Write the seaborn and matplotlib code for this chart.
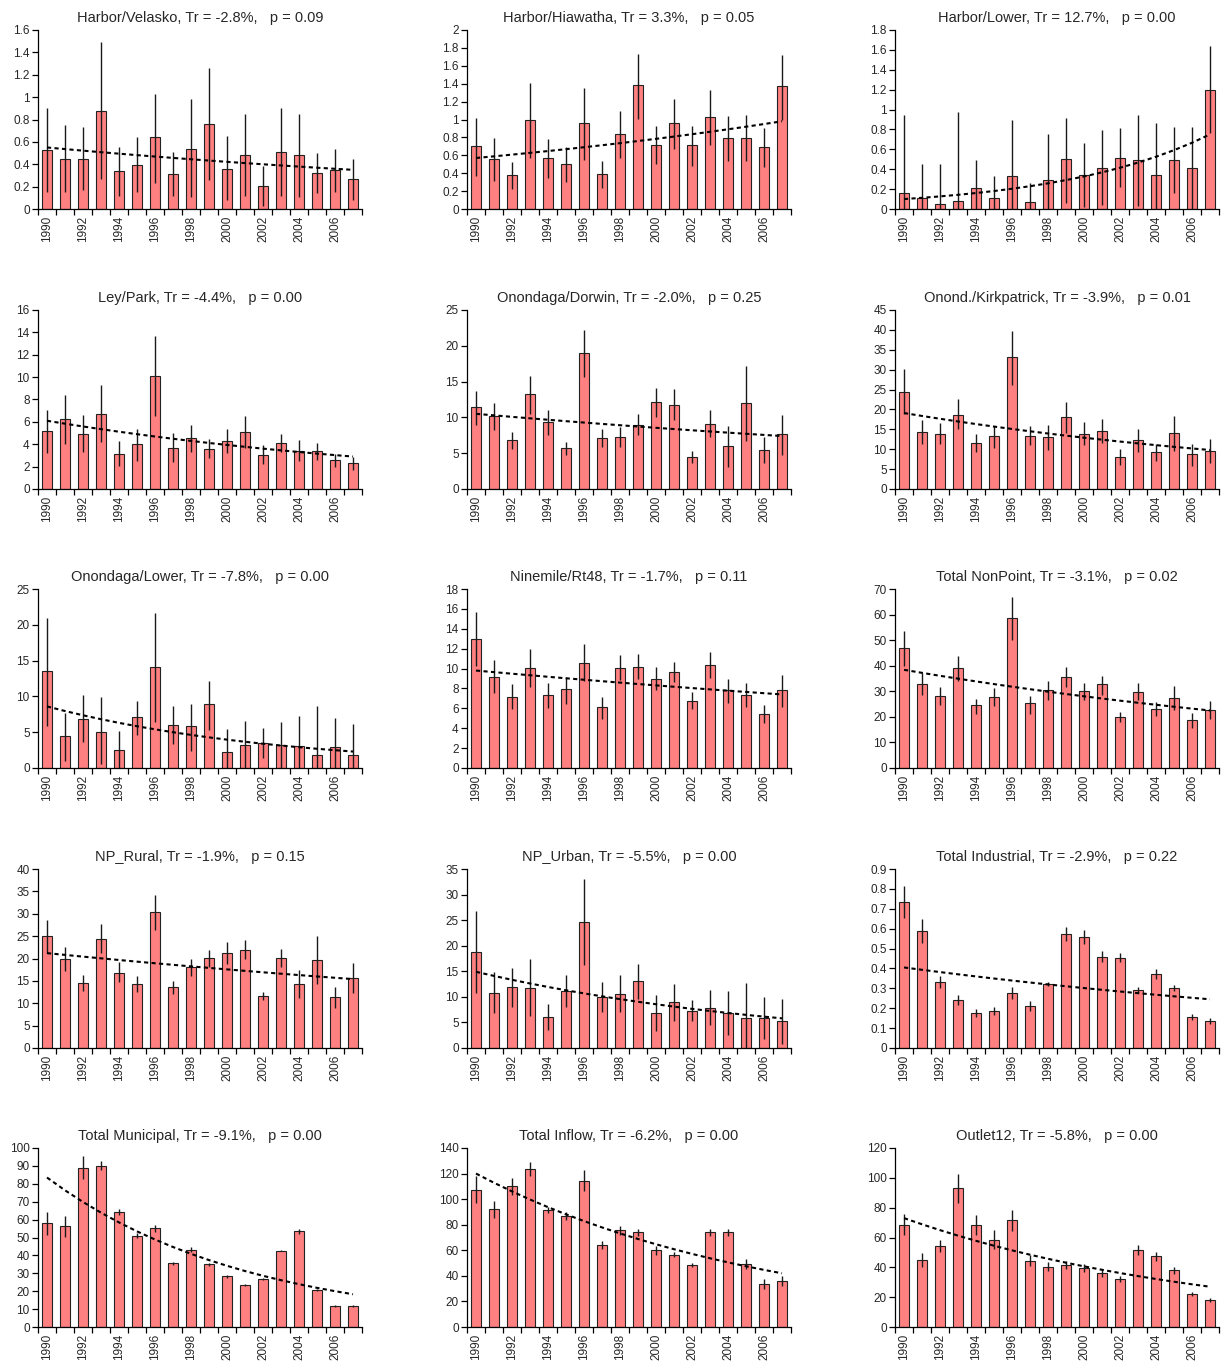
import numpy as np
import pandas as pd
import matplotlib
matplotlib.use("Agg")
import matplotlib.pyplot as plt
from matplotlib.ticker import FixedLocator, FuncFormatter
import seaborn as sns

years = list(range(1990, 2008))

# Harbor/Velasko
velasko = [0.53, 0.45, 0.45, 0.88, 0.34, 0.39, 0.64, 0.31, 0.54, 0.76, 0.36, 0.48, 0.21, 0.51, 0.48, 0.32, 0.35, 0.27]
velasko_hi = [0.90, 0.75, 0.73, 1.49, 0.55, 0.64, 1.03, 0.51, 0.98, 1.26, 0.65, 0.85, 0.38, 0.90, 0.85, 0.50, 0.54, 0.45]
velasko_lo = [0.15, 0.15, 0.17, 0.27, 0.12, 0.15, 0.23, 0.12, 0.11, 0.26, 0.08, 0.12, 0.03, 0.12, 0.11, 0.14, 0.15, 0.08]

# Harbor/Hiawatha
hiawatha = [0.70, 0.56, 0.38, 0.99, 0.57, 0.50, 0.96, 0.39, 0.84, 1.38, 0.72, 0.96, 0.71, 1.03, 0.79, 0.79, 0.69, 1.37]
hiawatha_hi = [1.02, 0.79, 0.53, 1.41, 0.78, 0.69, 1.35, 0.54, 1.10, 1.73, 0.93, 1.23, 0.93, 1.33, 1.04, 1.05, 0.90, 1.72]
hiawatha_lo = [0.37, 0.31, 0.22, 0.57, 0.35, 0.30, 0.55, 0.23, 0.57, 1.01, 0.50, 0.67, 0.48, 0.72, 0.54, 0.54, 0.47, 0.99]

# Harbor/Lower
hlower = [0.16, 0.11, 0.05, 0.08, 0.21, 0.11, 0.33, 0.07, 0.29, 0.50, 0.34, 0.41, 0.51, 0.49, 0.34, 0.49, 0.41, 1.20]
hlower_hi = [0.95, 0.45, 0.45, 0.98, 0.49, 0.33, 0.90, 0.26, 0.75, 0.92, 0.66, 0.79, 0.81, 0.95, 0.86, 0.82, 0.82, 1.64]
hlower_lo = [0.0, 0.0, 0.0, 0.0, 0.0, 0.0, 0.0, 0.0, 0.0, 0.06, 0.02, 0.04, 0.22, 0.03, 0.0, 0.16, 0.0, 0.76]

# Ley/Park
leypark = [5.2, 6.3, 4.9, 6.7, 3.1, 4.0, 10.1, 3.7, 4.6, 3.6, 4.3, 5.1, 3.0, 4.1, 3.4, 3.4, 2.6, 2.3]
leypark_hi = [7.1, 8.4, 6.6, 9.3, 4.3, 5.4, 13.7, 5.0, 5.7, 4.5, 5.4, 6.5, 3.9, 4.9, 4.4, 4.1, 3.1, 2.9]
leypark_lo = [3.2, 4.0, 3.3, 4.2, 2.1, 2.5, 6.5, 2.4, 3.3, 2.8, 3.2, 3.7, 2.2, 3.3, 2.5, 2.6, 2.0, 1.7]

# Onondaga/Dorwin
dorwin = [11.4, 10.2, 6.8, 13.2, 9.3, 5.7, 19.0, 7.1, 7.2, 9.0, 12.1, 11.8, 4.5, 9.1, 6.0, 12.0, 5.4, 7.7]
dorwin_hi = [13.7, 12.0, 8.0, 15.8, 11.0, 6.6, 22.2, 8.4, 8.6, 10.5, 14.1, 13.9, 5.3, 11.0, 8.8, 17.2, 7.2, 10.4]
dorwin_lo = [9.0, 8.2, 5.6, 10.5, 7.6, 4.8, 15.6, 5.8, 5.8, 7.6, 10.0, 9.6, 3.7, 7.3, 3.1, 6.7, 3.6, 4.8]

# Onond./Kirkpatrick
kirk = [24.5, 14.4, 13.9, 18.7, 11.6, 13.3, 33.1, 13.3, 13.0, 18.2, 13.9, 14.7, 8.1, 12.2, 9.3, 14.2, 8.7, 9.5]
kirk_hi = [30.2, 17.4, 16.5, 22.5, 13.9, 15.9, 39.8, 15.9, 16.0, 21.9, 16.9, 17.7, 10.1, 15.2, 11.4, 18.4, 11.3, 12.5]
kirk_lo = [18.8, 11.2, 11.3, 15.0, 9.3, 10.4, 26.2, 11.0, 9.8, 14.2, 11.0, 11.5, 6.1, 9.4, 7.0, 9.6, 5.9, 6.5]

# Onondaga/Lower
olower = [13.5, 4.4, 6.9, 5.0, 2.5, 7.1, 14.1, 6.0, 5.8, 8.9, 2.2, 3.2, 3.5, 3.2, 3.1, 1.8, 2.9, 1.8]
olower_hi = [20.9, 7.7, 10.2, 9.9, 5.2, 9.4, 21.7, 8.6, 9.0, 12.1, 5.5, 6.5, 5.6, 6.4, 7.2, 8.7, 7.0, 6.1]
olower_lo = [5.8, 1.0, 3.7, 0.5, 0.0, 4.6, 6.4, 3.4, 2.4, 5.3, 0.0, 0.0, 1.4, 0.0, 0.0, 0.0, 0.0, 0.0]

# Ninemile/Rt48
ninemile = [13.0, 9.2, 7.1, 10.1, 7.3, 7.9, 10.6, 6.1, 10.1, 10.2, 9.0, 9.7, 6.7, 10.4, 7.8, 7.3, 5.4, 7.8]
ninemile_hi = [15.7, 10.9, 8.4, 12.0, 8.5, 9.2, 12.5, 7.1, 11.4, 11.5, 10.2, 10.7, 7.6, 11.7, 9.0, 8.5, 6.3, 9.4]
ninemile_lo = [10.3, 7.5, 5.9, 8.1, 6.0, 6.4, 8.7, 4.9, 8.8, 8.9, 7.8, 8.6, 5.9, 9.1, 6.5, 6.1, 4.5, 6.1]

# Total NonPoint
nonpoint = [46.8, 32.8, 28.3, 39.0, 24.5, 27.8, 58.5, 25.4, 30.4, 35.6, 30.0, 32.8, 20.0, 29.9, 22.9, 27.4, 18.8, 22.5]
nonpoint_hi = [53.5, 37.0, 31.6, 43.8, 27.0, 31.2, 66.7, 28.2, 34.0, 39.4, 33.3, 36.0, 22.0, 33.3, 25.8, 32.0, 21.6, 26.2]
nonpoint_lo = [40.0, 28.5, 24.5, 34.0, 21.0, 24.2, 50.2, 21.2, 26.6, 31.5, 26.4, 28.5, 17.8, 26.5, 20.3, 22.5, 15.5, 19.0]

# NP_Rural
rural = [25.0, 19.9, 14.5, 24.4, 16.8, 14.3, 30.3, 13.6, 18.1, 20.2, 21.3, 22.0, 11.7, 20.2, 14.3, 19.7, 11.4, 15.7]
rural_hi = [28.6, 22.5, 16.3, 27.7, 19.2, 16.0, 34.1, 15.0, 20.0, 22.0, 23.6, 24.2, 12.6, 22.2, 17.5, 25.1, 13.6, 19.0]
rural_lo = [21.2, 17.2, 12.7, 21.2, 14.7, 12.6, 26.4, 12.0, 16.1, 18.2, 18.7, 19.8, 10.7, 18.0, 11.2, 14.3, 9.0, 12.4]

# NP_Urban
urban = [18.8, 10.8, 12.0, 11.8, 6.1, 11.2, 24.6, 10.0, 10.6, 13.1, 6.9, 8.9, 7.3, 7.9, 6.9, 5.9, 5.8, 5.2]
urban_hi = [26.7, 14.8, 15.6, 17.4, 8.7, 14.2, 33.0, 12.9, 14.2, 16.4, 10.4, 12.5, 9.3, 11.3, 11.1, 12.7, 10.0, 9.6]
urban_lo = [10.8, 6.8, 8.0, 6.3, 3.5, 8.1, 16.2, 7.1, 7.0, 9.6, 3.4, 5.3, 5.2, 4.5, 2.6, 0.0, 1.7, 0.8]

# Total Industrial
industrial = [0.735, 0.59, 0.33, 0.24, 0.175, 0.185, 0.275, 0.21, 0.32, 0.575, 0.56, 0.46, 0.455, 0.29, 0.37, 0.30, 0.155, 0.135]
industrial_hi = [0.815, 0.65, 0.36, 0.265, 0.195, 0.205, 0.305, 0.235, 0.33, 0.61, 0.595, 0.49, 0.48, 0.305, 0.395, 0.315, 0.17, 0.15]
industrial_lo = [0.655, 0.53, 0.30, 0.215, 0.155, 0.165, 0.245, 0.185, 0.31, 0.54, 0.525, 0.43, 0.43, 0.275, 0.345, 0.285, 0.14, 0.12]

# Total Municipal
municipal = [58.0, 56.2, 89.0, 90.0, 64.2, 51.0, 55.2, 35.5, 43.2, 35.0, 28.3, 23.6, 27.0, 42.7, 53.5, 20.8, 11.8, 11.8]
municipal_hi = [64.5, 61.8, 95.5, 92.5, 66.0, 52.3, 57.0, 36.2, 44.5, 35.7, 29.0, 24.1, 27.5, 43.2, 54.8, 21.3, 12.2, 12.2]
municipal_lo = [51.5, 50.5, 82.5, 87.5, 62.3, 49.7, 53.3, 34.8, 41.9, 34.3, 27.6, 23.1, 26.5, 42.2, 52.2, 20.3, 11.4, 11.4]

# Total Inflow
inflow = [107.5, 92.0, 110.0, 123.5, 91.5, 87.0, 114.5, 64.0, 75.5, 74.0, 60.0, 56.5, 48.5, 74.0, 74.0, 49.0, 33.5, 36.0]
inflow_hi = [118.0, 98.5, 116.5, 129.0, 94.0, 90.0, 122.5, 67.0, 79.0, 77.0, 63.5, 58.5, 50.0, 77.0, 77.0, 53.5, 37.5, 40.0]
inflow_lo = [97.0, 85.5, 103.5, 118.0, 89.0, 84.0, 106.0, 61.0, 72.0, 71.0, 56.5, 54.5, 47.0, 71.0, 71.0, 45.0, 29.5, 32.0]

# Outlet12
outlet = [68.5, 45.0, 54.5, 93.0, 68.5, 58.5, 71.5, 44.5, 40.5, 41.5, 39.5, 36.0, 32.5, 51.5, 47.5, 38.0, 22.0, 18.0]
outlet_hi = [75.5, 49.5, 58.5, 102.5, 75.0, 65.0, 78.5, 48.0, 43.5, 44.0, 42.0, 38.5, 34.5, 55.0, 50.5, 40.5, 23.5, 19.5]
outlet_lo = [62.0, 40.5, 50.5, 83.0, 62.0, 52.0, 64.5, 41.0, 37.5, 39.0, 37.0, 33.5, 30.5, 48.0, 44.5, 35.5, 20.5, 16.5]

titles = [
    "Harbor/Velasko, Tr = -2.8%,   p = 0.09",
    "Harbor/Hiawatha, Tr = 3.3%,   p = 0.05",
    "Harbor/Lower, Tr = 12.7%,   p = 0.00",
    "Ley/Park, Tr = -4.4%,   p = 0.00",
    "Onondaga/Dorwin, Tr = -2.0%,   p = 0.25",
    "Onond./Kirkpatrick, Tr = -3.9%,   p = 0.01",
    "Onondaga/Lower, Tr = -7.8%,   p = 0.00",
    "Ninemile/Rt48, Tr = -1.7%,   p = 0.11",
    "Total NonPoint, Tr = -3.1%,   p = 0.02",
    "NP_Rural, Tr = -1.9%,   p = 0.15",
    "NP_Urban, Tr = -5.5%,   p = 0.00",
    "Total Industrial, Tr = -2.9%,   p = 0.22",
    "Total Municipal, Tr = -9.1%,   p = 0.00",
    "Total Inflow, Tr = -6.2%,   p = 0.00",
    "Outlet12, Tr = -5.8%,   p = 0.00",
]

# fitted trend (exponential) read at 1990 and 2007
trend_start = [0.55, 0.57, 0.10, 6.1, 10.5, 19.1, 8.6, 9.8, 38.4, 21.2, 14.9, 0.405, 83.5, 120.0, 73.0]
trend_end = [0.35, 0.98, 0.75, 2.9, 7.4, 9.8, 2.3, 7.4, 22.5, 15.4, 5.8, 0.245, 18.3, 42.0, 27.0]

y_max = [1.6, 2.0, 1.8, 16, 25, 45, 25, 18, 70, 40, 35, 0.9, 100, 140, 120]
y_step = [0.2, 0.2, 0.2, 2, 5, 5, 5, 2, 10, 5, 5, 0.1, 10, 20, 20]

series = [
    (velasko, velasko_hi, velasko_lo),
    (hiawatha, hiawatha_hi, hiawatha_lo),
    (hlower, hlower_hi, hlower_lo),
    (leypark, leypark_hi, leypark_lo),
    (dorwin, dorwin_hi, dorwin_lo),
    (kirk, kirk_hi, kirk_lo),
    (olower, olower_hi, olower_lo),
    (ninemile, ninemile_hi, ninemile_lo),
    (nonpoint, nonpoint_hi, nonpoint_lo),
    (rural, rural_hi, rural_lo),
    (urban, urban_hi, urban_lo),
    (industrial, industrial_hi, industrial_lo),
    (municipal, municipal_hi, municipal_lo),
    (inflow, inflow_hi, inflow_lo),
    (outlet, outlet_hi, outlet_lo),
]

sns.set_style("ticks")
plt.rcParams['font.family'] = ['Liberation Sans', 'DejaVu Sans']

W, H = 1221, 1368
fig = plt.figure(figsize=(W / 100, H / 100), dpi=100)

col_left = [38, 467, 895]
row_bottom = [209, 489, 768, 1048, 1327]
ax_w, ax_h = 324, 179

def fmt(v, _):
    return f"{round(v, 3):g}"

n = len(years)
idx = np.arange(n)

for k, (vals, hi, lo) in enumerate(series):
    r, c = divmod(k, 3)
    ax = fig.add_axes([col_left[c] / W, (H - row_bottom[r]) / H, ax_w / W, ax_h / H])

    df = pd.DataFrame({"year": [str(y) for y in years], "value": vals})
    sns.barplot(data=df, x="year", y="value", ax=ax, color="#FF8080", saturation=1,
                width=0.55, edgecolor="#222222", linewidth=0.8, errorbar=None, zorder=2)

    ax.vlines(idx, lo, hi, color="#1a1a1a", linewidth=1.0, zorder=3)

    rate = (trend_end[k] / trend_start[k]) ** (1.0 / (n - 1))
    trend = trend_start[k] * rate ** idx
    ax.plot(idx, trend, color="black", linewidth=1.5, linestyle=(0, (2, 1.6)), zorder=4)

    ax.set_xlim(-0.5, n - 0.5)
    ax.set_ylim(0, y_max[k])
    ax.yaxis.set_major_locator(FixedLocator(np.arange(0, y_max[k] + y_step[k] / 2, y_step[k])))
    ax.yaxis.set_major_formatter(FuncFormatter(fmt))

    ax.set_xticks(idx[::2])
    ax.set_xticklabels([str(y) for y in years[::2]], rotation=90)
    ax.set_xticks(np.arange(-0.5, n, 1.0), minor=True)
    ax.tick_params(axis="x", which="major", length=0, pad=5, labelsize=8.5)
    ax.tick_params(axis="x", which="minor", length=4, width=0.9, color="black")
    ax.tick_params(axis="y", length=4, width=0.9, labelsize=8.5, pad=2, color="black")

    ax.set_xlabel("")
    ax.set_ylabel("")
    ax.set_title(titles[k], fontsize=10.5, pad=6)

    sns.despine(ax=ax)
    for side in ("left", "bottom"):
        ax.spines[side].set_linewidth(0.9)
        ax.spines[side].set_color("black")

fig.savefig("out.png", dpi=100)
